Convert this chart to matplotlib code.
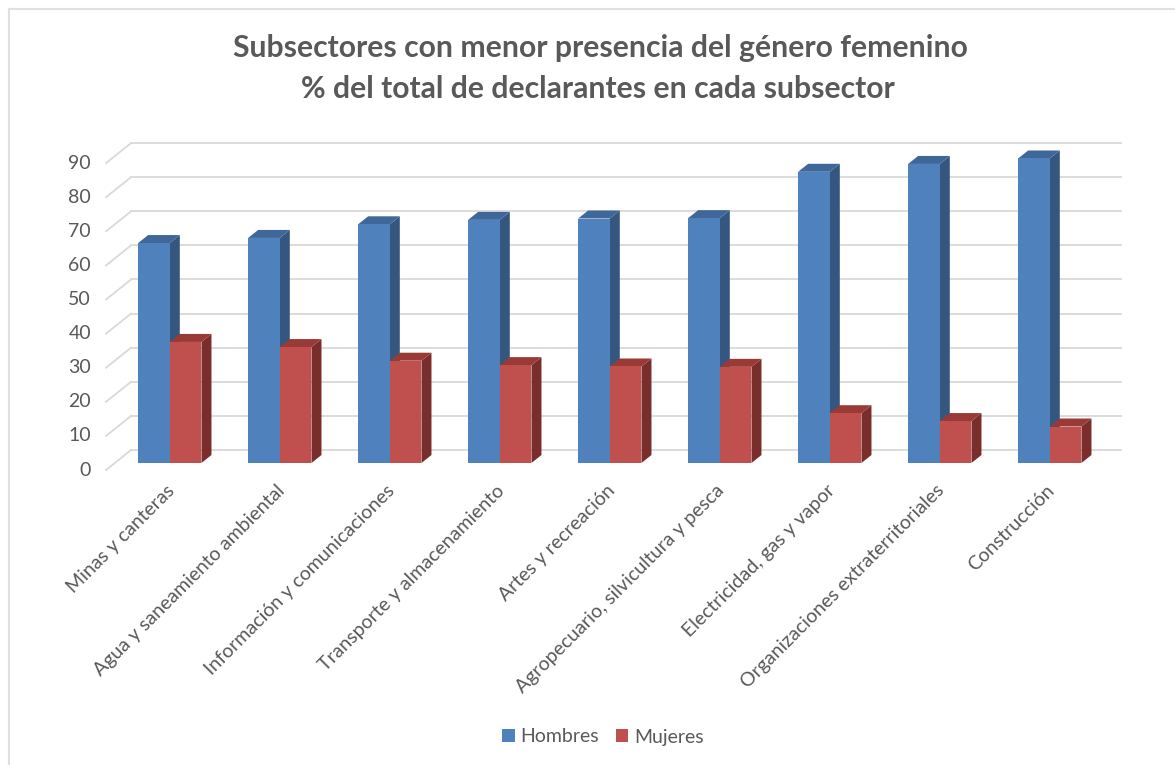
import matplotlib
matplotlib.use("Agg")
import matplotlib.pyplot as plt
from matplotlib.patches import Polygon, Patch
from matplotlib.lines import Line2D

# ---------------- data ----------------
categories = [
    "Minas y canteras",
    "Agua y saneamiento ambiental",
    "Información y comunicaciones",
    "Transporte y almacenamiento",
    "Artes y recreación",
    "Agropecuario, silvicultura y pesca",
    "Electricidad, gas y vapor",
    "Organizaciones extraterritoriales",
    "Construcción",
]
hombres = [64.5, 66.0, 70.0, 71.3, 71.7, 71.8, 85.4, 87.7, 89.3]
mujeres = [35.5, 34.0, 30.0, 28.7, 28.3, 28.2, 14.6, 12.3, 10.7]
yticks = [0, 10, 20, 30, 40, 50, 60, 70, 80, 90]
title_lines = ["Subsectores con menor presencia del género femenino",
               "% del total de declarantes en cada subsector"]
legend_labels = ["Hombres", "Mujeres"]

# ---------------- style ----------------
W, H = 1175, 765
FONT = "Lato"
TXT = "#595959"
GRID = "#d9d9d9"
BLUE = ("#4F81BD", "#34567F", "#3F6799")   # front, side, top
RED = ("#C0504D", "#7A2E2C", "#9A3A37")

PX_X = 110.0   # pixels per category
PX_Y = 3.41    # pixels per value unit
BAR_W = 0.288  # bar width in category units

def off(dx_px, dy_px):
    return dx_px / PX_X, dy_px / PX_Y

WALL = off(16.25, 13.0)
FRONT = off(-8.75, -7.0)
DEPTH = off(10.0, 8.0)

fig = plt.figure(figsize=(W / 100, H / 100), dpi=100)
fig.patch.set_facecolor("white")

left_px, right_px = 114.8, 1104.8
bot_px, top_px = 463.0, 463.0 - 90 * PX_Y
ax = fig.add_axes([left_px / W, (H - bot_px) / H,
                   (right_px - left_px) / W, (bot_px - top_px) / H])
ax.set_xlim(-0.5, len(categories) - 0.5)
ax.set_ylim(0, 90)
ax.axis("off")

x0, x1 = -0.5, len(categories) - 0.5

# back wall gridlines + floor side diagonals
for v in yticks:
    ax.add_line(Line2D([x0 + WALL[0], x1 + WALL[0]], [v + WALL[1], v + WALL[1]],
                       color=GRID, lw=1.3, zorder=1, clip_on=False))
    ax.add_line(Line2D([x0 + FRONT[0], x0 + WALL[0]], [v + FRONT[1], v + WALL[1]],
                       color=GRID, lw=1.3, zorder=1, clip_on=False))
    ax.text(x0 + FRONT[0] - 15 / PX_X, v + FRONT[1], str(v), ha="right",
            va="center", fontsize=14, color=TXT, family=FONT)

def bar3d(xl, val, cols, z):
    xr = xl + BAR_W
    dx, dy = DEPTH
    side = Polygon([(xr, 0), (xr + dx, dy), (xr + dx, val + dy), (xr, val)],
                   closed=True, facecolor=cols[1], edgecolor="none", zorder=z,
                   clip_on=False)
    top = Polygon([(xl, val), (xr, val), (xr + dx, val + dy), (xl + dx, val + dy)],
                  closed=True, facecolor=cols[2], edgecolor="none", zorder=z,
                  clip_on=False)
    ax.add_patch(side)
    ax.add_patch(top)
    ax.bar([xl], [val], width=BAR_W, align="edge", color=cols[0],
           zorder=z + 0.5, clip_on=False)

for i, (h, m) in enumerate(zip(hombres, mujeres)):
    bar3d(i - BAR_W, h, BLUE, 3 + i * 0.01)
    bar3d(i, m, RED, 4 + i * 0.01)

# category labels
for i, c in enumerate(categories):
    ax.text(i - 4 / PX_X, -19 / PX_Y, c, rotation=45, rotation_mode="anchor",
            ha="right", va="top", fontsize=14, color=TXT, family=FONT)

# title
fig.text(600 / W, 1 - 48 / H, title_lines[0], ha="center", va="center",
         fontsize=21.7, fontweight="bold", color=TXT, family=FONT)
fig.text(598 / W, 1 - 89 / H, title_lines[1], ha="center", va="center",
         fontsize=21.7, fontweight="bold", color=TXT, family=FONT)

# legend
handles = [Patch(facecolor=BLUE[0]), Patch(facecolor=RED[0])]
fig.legend(handles, legend_labels, loc="center", bbox_to_anchor=(603 / W, 1 - 737 / H),
           ncol=2, frameon=False, handlelength=0.65, handleheight=0.65,
           handletextpad=0.3, columnspacing=0.85,
           prop={"family": FONT, "size": 14}, labelcolor=TXT)

# chart area border (top and left visible)
fig.add_artist(Line2D([9 / W, 1], [1 - 9 / H, 1 - 9 / H], color="#e0e0e0", lw=1.5,
                      transform=fig.transFigure))
fig.add_artist(Line2D([9 / W, 9 / W], [0, 1 - 9 / H], color="#e0e0e0", lw=1.5,
                      transform=fig.transFigure))

fig.savefig("out.png", dpi=100, facecolor="white")
